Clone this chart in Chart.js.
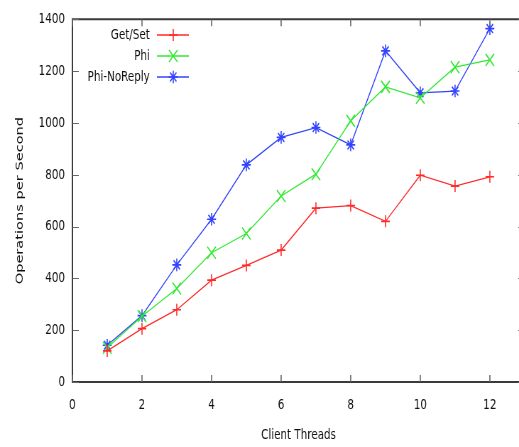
<!DOCTYPE html>
<html>
<head>
<meta charset="utf-8">
<script src="https://cdn.jsdelivr.net/npm/chart.js@4/dist/chart.umd.min.js"></script>
<style>
  html, body { margin: 0; padding: 0; background: #fff; overflow: hidden; }
  /* the reference plot is squeezed horizontally, so draw wide and squeeze */
  #threadsChart { display: block; transform: scaleX(0.71); transform-origin: 0 0; }
</style>
</head>
<body>
<canvas id="threadsChart" width="749" height="447"></canvas>
<script>
const threads = [1, 2, 3, 4, 5, 6, 7, 8, 9, 10, 11, 12];
const getSet = [120, 206, 279, 393, 450, 509, 671, 681, 620, 798, 756, 792];
const phi = [132, 254, 361, 499, 573, 718, 802, 1008, 1139, 1097, 1215, 1243];
const phiNoReply = [142, 256, 452, 628, 838, 944, 982, 915, 1278, 1116, 1123, 1364];
const xTicks = [0, 2, 4, 6, 8, 10, 12];
const yTicks = [0, 200, 400, 600, 800, 1000, 1200, 1400];

const fontFamily = "'DejaVu Sans', Verdana, sans-serif";
const tickFont = { family: fontFamily, size: 14.6 };
const axisColor = '#3a3a3a';

function pairs(ys) {
  return threads.map((t, i) => ({ x: t, y: ys[i] }));
}

// gnuplot style: border all round, ticks point inward and are mirrored
const innerTicks = {
  id: 'innerTicks',
  afterDraw(chart) {
    const { ctx, chartArea: a, scales: { x, y } } = chart;
    ctx.save();
    ctx.strokeStyle = axisColor;
    ctx.lineWidth = 2;
    ctx.beginPath();
    ctx.rect(a.left, a.top, a.right - a.left, a.bottom - a.top);
    ctx.stroke();
    ctx.lineWidth = 1.6;
    ctx.strokeStyle = '#666';
    xTicks.forEach(v => {
      const px = x.getPixelForValue(v);
      ctx.beginPath();
      ctx.moveTo(px, a.bottom); ctx.lineTo(px, a.bottom - 7);
      ctx.moveTo(px, a.top); ctx.lineTo(px, a.top + 7);
      ctx.stroke();
    });
    ctx.lineWidth = 1.2;
    yTicks.forEach(v => {
      const py = Math.round(y.getPixelForValue(v)) + 0.5;
      ctx.beginPath();
      ctx.moveTo(a.left, py); ctx.lineTo(a.left + 9, py);
      ctx.moveTo(a.right, py); ctx.lineTo(a.right - 9, py);
      ctx.stroke();
    });
    ctx.restore();
  }
};

// key inside the plot, text right-aligned before the sample
const keyBox = {
  id: 'keyBox',
  afterDatasetsDraw(chart) {
    const { ctx } = chart;
    ctx.save();
    ctx.font = "14.6px " + fontFamily;
    ctx.textAlign = 'right';
    ctx.textBaseline = 'middle';
    chart.data.datasets.forEach((ds, i) => {
      const yy = 35 + i * 21;
      ctx.fillStyle = '#111';
      ctx.fillText(ds.label, 211, yy);
      ctx.strokeStyle = ds.borderColor;
      ctx.lineWidth = 1.3;
      ctx.beginPath();
      ctx.moveTo(221, yy); ctx.lineTo(266, yy);
      ctx.stroke();
      ctx.lineWidth = 1.6;
      Chart.helpers.drawPoint(ctx, {
        pointStyle: ds.pointStyle, radius: ds.pointRadius, rotation: 0,
        borderWidth: 1.6
      }, 244, yy);
    });
    ctx.restore();
  }
};

function series(label, data, color, style, radius) {
  return {
    label, data: pairs(data),
    borderColor: color, backgroundColor: color,
    borderWidth: 1.3, pointStyle: style, pointRadius: radius,
    pointBorderWidth: 1.6, pointBorderColor: color, tension: 0
  };
}

new Chart(document.getElementById('threadsChart').getContext('2d'), {
  type: 'line',
  data: {
    datasets: [
      series('Get/Set', getSet, '#ff2a2a', 'cross', 6),
      series('Phi', phi, '#33e833', 'crossRot', 8.5),
      series('Phi-NoReply', phiNoReply, '#3344ff', 'star', 6.3)
    ]
  },
  options: {
    responsive: false,
    animation: false,
    layout: { padding: { top: 16, left: 0, right: 0, bottom: 0 } },
    plugins: { legend: { display: false }, tooltip: { enabled: false } },
    scales: {
      x: {
        type: 'linear', min: 0, max: 13,
        afterBuildTicks: s => { s.ticks = xTicks.map(v => ({ value: v })); },
        afterFit: s => { s.height = 65; },
        grid: { display: false, drawTicks: false },
        border: { display: false },
        ticks: { color: '#111', font: tickFont, padding: 14.5, callback: v => String(v) },
        title: { display: true, text: 'Client Threads', color: '#111',
          font: { family: fontFamily, size: 14.6 },
          padding: { top: 0, bottom: 3 } }
      },
      y: {
        min: 0, max: 1400,
        afterBuildTicks: s => { s.ticks = yTicks.map(v => ({ value: v })); },
        afterFit: s => { s.width = 102; },
        grid: { display: false, drawTicks: false },
        border: { display: false },
        ticks: { color: '#111', font: tickFont, padding: 10.5, callback: v => String(v) },
        title: { display: true, text: 'Operations per Second', color: '#111',
          font: { family: fontFamily, size: 14.6 },
          padding: { top: 19.5, bottom: 0 } }
      }
    }
  },
  plugins: [innerTicks, keyBox]
});
</script>
</body>
</html>
